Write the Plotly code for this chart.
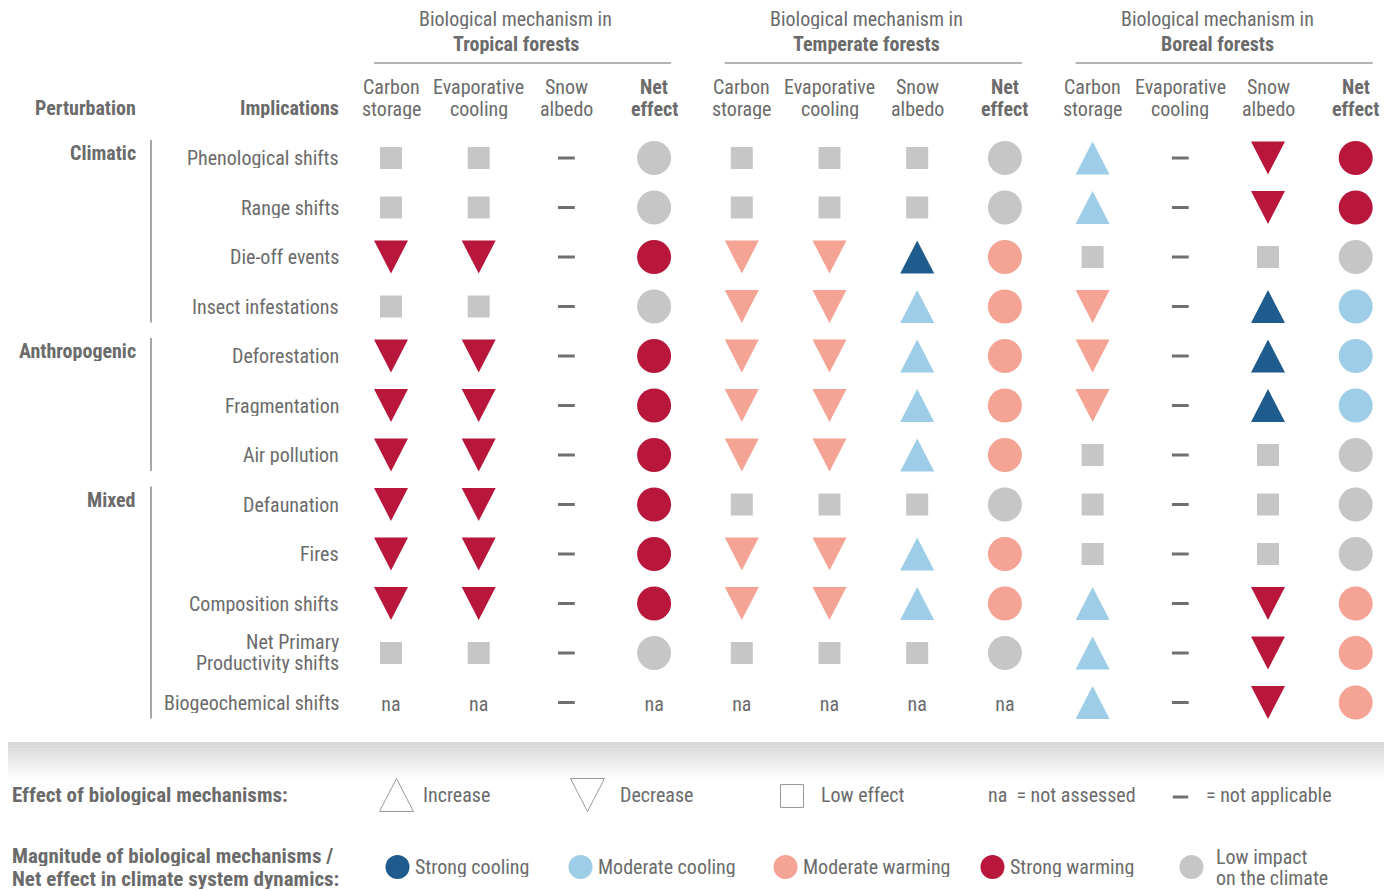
import plotly.graph_objects as go

# ---- data -----------------------------------------------------------------
implications = ["Phenological shifts", "Range shifts", "Die-off events", "Insect infestations",
                "Deforestation", "Fragmentation", "Air pollution", "Defaunation", "Fires",
                "Composition shifts", "Net Primary<br>Productivity shifts", "Biogeochemical shifts"]
perturbations = {"Climatic": (0, 3), "Anthropogenic": (4, 6), "Mixed": (7, 11)}
forests = ["Tropical forests", "Temperate forests", "Boreal forests"]
mechanisms = ["Carbon<br>storage", "Evaporative<br>cooling", "Snow<br>albedo", "<b>Net<br>effect</b>"]

# codes: U/D = increase/decrease triangle, S = low effect square, C = net effect circle,
# "-" = not applicable, "na" = not assessed; suffix is the magnitude colour
tropical = [
    ["S", "S", "-", "C:LO"],
    ["S", "S", "-", "C:LO"],
    ["D:SW", "D:SW", "-", "C:SW"],
    ["S", "S", "-", "C:LO"],
    ["D:SW", "D:SW", "-", "C:SW"],
    ["D:SW", "D:SW", "-", "C:SW"],
    ["D:SW", "D:SW", "-", "C:SW"],
    ["D:SW", "D:SW", "-", "C:SW"],
    ["D:SW", "D:SW", "-", "C:SW"],
    ["D:SW", "D:SW", "-", "C:SW"],
    ["S", "S", "-", "C:LO"],
    ["na", "na", "-", "na"],
]
temperate = [
    ["S", "S", "S", "C:LO"],
    ["S", "S", "S", "C:LO"],
    ["D:MW", "D:MW", "U:SC", "C:MW"],
    ["D:MW", "D:MW", "U:MC", "C:MW"],
    ["D:MW", "D:MW", "U:MC", "C:MW"],
    ["D:MW", "D:MW", "U:MC", "C:MW"],
    ["D:MW", "D:MW", "U:MC", "C:MW"],
    ["S", "S", "S", "C:LO"],
    ["D:MW", "D:MW", "U:MC", "C:MW"],
    ["D:MW", "D:MW", "U:MC", "C:MW"],
    ["S", "S", "S", "C:LO"],
    ["na", "na", "na", "na"],
]
boreal = [
    ["U:MC", "-", "D:SW", "C:SW"],
    ["U:MC", "-", "D:SW", "C:SW"],
    ["S", "-", "S", "C:LO"],
    ["D:MW", "-", "U:SC", "C:MC"],
    ["D:MW", "-", "U:SC", "C:MC"],
    ["D:MW", "-", "U:SC", "C:MC"],
    ["S", "-", "S", "C:LO"],
    ["S", "-", "S", "C:LO"],
    ["S", "-", "S", "C:LO"],
    ["U:MC", "-", "D:SW", "C:MW"],
    ["U:MC", "-", "D:SW", "C:MW"],
    ["U:MC", "-", "D:SW", "C:MW"],
]
magnitudes = {"SC": "Strong cooling", "MC": "Moderate cooling", "MW": "Moderate warming",
              "SW": "Strong warming", "LO": "Low impact<br>on the climate"}

# ---- style ----------------------------------------------------------------
COLORS = {"SC": "#1f5b8d", "MC": "#9ecde7", "MW": "#f4a394", "SW": "#b8163b", "LO": "#c6c6c6"}
FONT = "Liberation Sans Narrow, Arial Narrow, Roboto Condensed, sans-serif"
TXT = "#6b6b6b"
FS = 20
W, H = 1393, 891
X0, DX = 391, 87.7
Y0, DY = 158, 49.5
TW, TH = 17, 16.5

fig = go.Figure()
annotations = []
shapes = []


def note(text, x, y, anchor="center", size=FS, color=TXT):
    annotations.append(dict(text=text, x=x, y=y, xref="x", yref="y", showarrow=False,
                            xanchor=anchor, yanchor="middle", height=20, borderpad=0,
                            font=dict(family=FONT, size=size, color=color)))


def tri_path(xs, ys, up):
    px, py = [], []
    for x, y in zip(xs, ys):
        if up:
            pts = [(x - TW, y + TH), (x + TW, y + TH), (x, y - TH)]
        else:
            pts = [(x - TW, y - TH), (x + TW, y - TH), (x, y + TH)]
        pts.append(pts[0])
        px += [p[0] for p in pts] + [None]
        py += [p[1] for p in pts] + [None]
    return px, py


# collect cells
groups = {}
for f, table in enumerate([tropical, temperate, boreal]):
    for r, row in enumerate(table):
        for m, code in enumerate(row):
            x = X0 + DX * (f * 4 + m)
            y = Y0 + DY * r
            groups.setdefault(code, []).append((x, y))

for code, pts in groups.items():
    xs = [p[0] for p in pts]
    ys = [p[1] for p in pts]
    kind, _, mag = code.partition(":")
    if kind in ("U", "D"):
        px, py = tri_path(xs, ys, kind == "U")
        fig.add_trace(go.Scatter(x=px, y=py, mode="lines", fill="toself",
                                 fillcolor=COLORS[mag], line=dict(width=0, color=COLORS[mag]),
                                 hoverinfo="skip", showlegend=False))
    elif kind == "S":
        fig.add_trace(go.Scatter(x=xs, y=ys, mode="markers", showlegend=False,
                                 marker=dict(symbol="square", size=22, color=COLORS["LO"])))
    elif kind == "C":
        fig.add_trace(go.Scatter(x=xs, y=ys, mode="markers", showlegend=False,
                                 marker=dict(symbol="circle", size=34, color=COLORS[mag])))
    elif kind == "-":
        fig.add_trace(go.Scatter(x=xs, y=ys, mode="markers", showlegend=False,
                                 marker=dict(symbol="line-ew", size=12,
                                             line=dict(width=3, color="#707070"))))
    elif kind == "na":
        fig.add_trace(go.Scatter(x=xs, y=[y + 3 for y in ys], mode="text", text=["na"] * len(xs),
                                 textfont=dict(family=FONT, size=FS, color=TXT),
                                 showlegend=False, hoverinfo="skip"))

# row labels
for r, lab in enumerate(implications):
    if "<br>" in lab:
        a, b = lab.split("<br>")
        note(a, 340, Y0 + DY * r - 11, anchor="right")
        note(b, 340, Y0 + DY * r + 10, anchor="right")
    else:
        note(lab, 340, Y0 + DY * r, anchor="right")

# perturbation groups
for name, (a, b) in perturbations.items():
    note("<b>%s</b>" % name, 137, Y0 + DY * a - 5, anchor="right")
    shapes.append(dict(type="line", xref="x", yref="y", x0=151, x1=151,
                       y0=Y0 + DY * a - 18, y1=Y0 + DY * b + 16,
                       line=dict(color="#8a8a8a", width=1.5)))

note("<b>Perturbation</b>", 85, 108)
note("<b>Implications</b>", 340, 108, anchor="right")

# column headers
for f, forest in enumerate(forests):
    left = X0 + DX * f * 4
    right = left + DX * 3
    cx = (left + right) / 2 - 7
    note("Biological mechanism in", cx, 19)
    note("<b>%s</b>" % forest, cx, 44)
    shapes.append(dict(type="line", xref="x", yref="y", x0=left - 17, x1=right + 17, y0=63, y1=63,
                       line=dict(color="#9a9a9a", width=1.5)))
    for m, mech in enumerate(mechanisms):
        top, bottom = mech.replace("<b>", "").replace("</b>", "").split("<br>")
        if "<b>" in mech:
            top, bottom = "<b>%s</b>" % top, "<b>%s</b>" % bottom
        x = X0 + DX * (f * 4 + m)
        note(top, x, 87)
        note(bottom, x, 109)

# gradient band
steps = 24
for i in range(steps):
    g = int(214 + (255 - 214) * i / (steps - 1))
    shapes.append(dict(type="rect", xref="x", yref="y", x0=8, x1=1384,
                       y0=742 + i * 1.6, y1=742 + (i + 1) * 1.6 + 0.3,
                       line=dict(width=0), fillcolor="rgb(%d,%d,%d)" % (g, g, g), layer="below"))

# legend: effect of biological mechanisms
LY1 = 795
note("<b>Effect of biological mechanisms:</b>", 11, LY1, anchor="left", size=21)
for x, up, label, lx in [(396.5, True, "Increase", 422), (587.5, False, "Decrease", 619)]:
    px, py = tri_path([x], [LY1], up)
    fig.add_trace(go.Scatter(x=px, y=py, mode="lines", line=dict(color="#999999", width=1),
                             hoverinfo="skip", showlegend=False))
    note(label, lx, LY1, anchor="left")
shapes.append(dict(type="rect", xref="x", yref="y", x0=780.5, x1=803.5, y0=784.5, y1=807.5,
                   line=dict(color="#999999", width=1), fillcolor="white"))
note("Low effect", 820, LY1, anchor="left")
note("na  = not assessed", 987, LY1, anchor="left")
fig.add_trace(go.Scatter(x=[1180.5], y=[LY1 + 2], mode="markers", showlegend=False,
                         marker=dict(symbol="line-ew", size=11, line=dict(width=3, color="#707070"))))
note("= not applicable", 1205, LY1, anchor="left")

# legend: magnitude
note("<b>Magnitude of biological mechanisms /</b>", 11, 856, anchor="left", size=21)
note("<b>Net effect in climate system dynamics:</b>", 11, 879, anchor="left", size=21)
leg_x = [397.5, 580.5, 785.5, 992.5, 1191.5]
leg_codes = list(magnitudes.keys())
fig.add_trace(go.Scatter(x=leg_x, y=[867] * len(leg_x), mode="markers", showlegend=False,
                         marker=dict(symbol="circle", size=24,
                                     color=[COLORS[c] for c in leg_codes])))
for x, c in zip(leg_x, leg_codes):
    lab = magnitudes[c]
    if "<br>" in lab:
        a, b = lab.split("<br>")
        note(a, x + 23, 857, anchor="left")
        note(b, x + 23, 878, anchor="left")
    else:
        note(lab, x + 16, 867, anchor="left")

fig.update_layout(
    width=W, height=H,
    margin=dict(l=0, r=0, t=0, b=0),
    paper_bgcolor="white", plot_bgcolor="white",
    xaxis=dict(range=[0, W], visible=False, fixedrange=True),
    yaxis=dict(range=[H, 0], visible=False, fixedrange=True),
    annotations=annotations, shapes=shapes,
    showlegend=False,
)

# drop the browser's default body margin so the figure fills the window
fig.write_html("out.html", config={"displayModeBar": False},
               post_script="document.body.style.margin = '0';")
